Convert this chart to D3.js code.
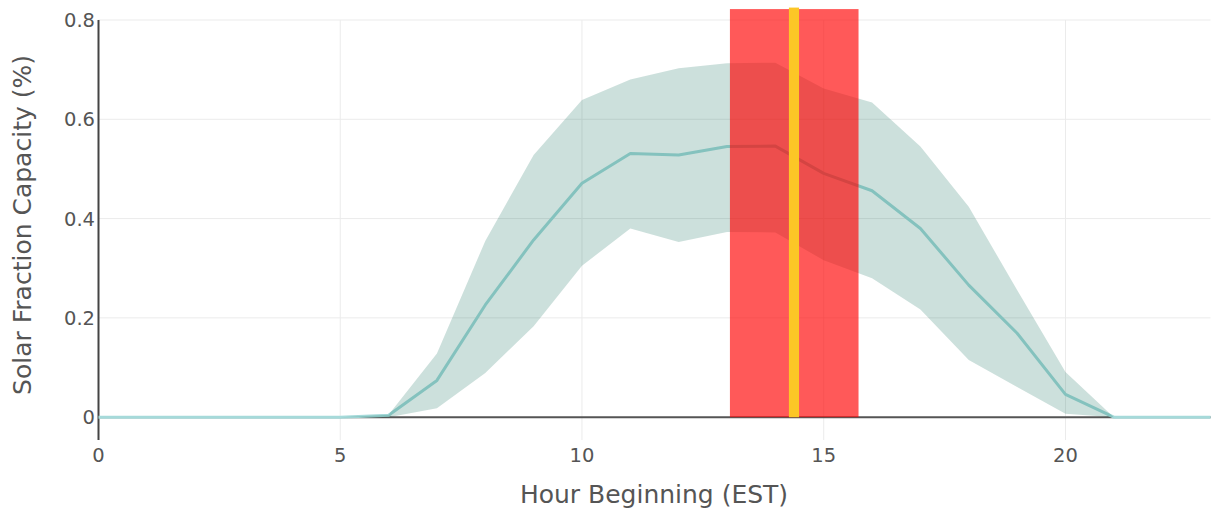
<!DOCTYPE html>
<html>
<head>
<meta charset="utf-8">
<script src="https://cdn.jsdelivr.net/npm/d3@7"></script>
<style>
  body { margin: 0; background: #fff; }
  svg { display: block; font-family: "DejaVu Sans", Verdana, sans-serif; }
  .tick-label { fill: #555; font-size: 19.5px; }
  .axis-title { fill: #555; font-size: 25px; }
</style>
</head>
<body>
<div id="chart"></div>
<script>
// Hourly solar fraction profile with spread band and a highlighted window.

const width = 1221;
const height = 510;

const hours = d3.range(0, 24);
const meanValues = [0, 0, 0, 0, 0, 0, 0.004, 0.074, 0.226, 0.357, 0.471, 0.531,
  0.528, 0.545, 0.546, 0.491, 0.456, 0.380, 0.266, 0.169, 0.046, 0, 0, 0];
const upperValues = [0, 0, 0, 0, 0, 0, 0.005, 0.128, 0.355, 0.528, 0.639, 0.680,
  0.703, 0.713, 0.714, 0.662, 0.634, 0.545, 0.424, 0.256, 0.091, 0, 0, 0];
const lowerValues = [0, 0, 0, 0, 0, 0, 0, 0.018, 0.089, 0.183, 0.305, 0.380,
  0.353, 0.373, 0.372, 0.316, 0.280, 0.217, 0.115, 0.061, 0.007, 0, 0, 0];

const redWindow = [13.06, 15.72];
const yellowWindow = [14.28, 14.49];
const redTop = 0.822;
const yellowTop = 0.825;

const xTicks = [0, 5, 10, 15, 20];
const yTicks = [0, 0.2, 0.4, 0.6, 0.8];

const svg = d3.select("#chart")
  .append("svg")
  .attr("width", width)
  .attr("height", height);

const xScale = d3.scaleLinear().domain([0, 23]).range([98.5, 1210.5]);
const yScale = d3.scaleLinear().domain([-0.046, 0.8]).range([440, 20]);

const data = hours.map((h, i) => ({
  hour: h, mean: meanValues[i], upper: upperValues[i], lower: lowerValues[i]
}));

// grid
svg.append("g")
  .selectAll("line")
  .data(xTicks.filter(d => d > 0))
  .join("line")
  .attr("x1", d => xScale(d)).attr("x2", d => xScale(d))
  .attr("y1", yScale.range()[1]).attr("y2", yScale.range()[0])
  .attr("stroke", "#ebebeb").attr("stroke-width", 1);

svg.append("g")
  .selectAll("line")
  .data(yTicks.filter(d => d > 0))
  .join("line")
  .attr("x1", xScale.range()[0]).attr("x2", xScale.range()[1])
  .attr("y1", d => yScale(d)).attr("y2", d => yScale(d))
  .attr("stroke", "#ebebeb").attr("stroke-width", 1);

// zero line
svg.append("line")
  .attr("x1", xScale.range()[0]).attr("x2", xScale.range()[1])
  .attr("y1", yScale(0)).attr("y2", yScale(0))
  .attr("stroke", "#555").attr("stroke-width", 2);

// y axis line
svg.append("line")
  .attr("x1", xScale(0)).attr("x2", xScale(0))
  .attr("y1", yScale.range()[1]).attr("y2", yScale.range()[0])
  .attr("stroke", "#444").attr("stroke-width", 2);

// mean line
const line = d3.line()
  .x(d => xScale(d.hour))
  .y(d => yScale(d.mean));

svg.append("path")
  .datum(data)
  .attr("fill", "none")
  .attr("stroke", "#a6dada")
  .attr("stroke-width", 3)
  .attr("stroke-linejoin", "round")
  .attr("d", line);

// spread band (on top of the line)
const area = d3.area()
  .x(d => xScale(d.hour))
  .y0(d => yScale(d.lower))
  .y1(d => yScale(d.upper));

svg.append("path")
  .datum(data)
  .attr("fill", "rgba(0, 100, 80, 0.2)")
  .attr("d", area);

// highlighted windows
svg.append("rect")
  .attr("x", xScale(redWindow[0]))
  .attr("width", xScale(redWindow[1]) - xScale(redWindow[0]))
  .attr("y", yScale(redTop))
  .attr("height", yScale(0) - yScale(redTop))
  .attr("fill", "rgba(255, 0, 0, 0.65)");

svg.append("rect")
  .attr("x", xScale(yellowWindow[0]))
  .attr("width", xScale(yellowWindow[1]) - xScale(yellowWindow[0]))
  .attr("y", yScale(yellowTop))
  .attr("height", yScale(0) - yScale(yellowTop))
  .attr("fill", "#fcc626");

// tick labels
svg.append("g")
  .selectAll("text")
  .data(xTicks)
  .join("text")
  .attr("class", "tick-label")
  .attr("x", d => xScale(d))
  .attr("y", 462)
  .attr("text-anchor", "middle")
  .text(d => d);

svg.append("g")
  .selectAll("text")
  .data(yTicks)
  .join("text")
  .attr("class", "tick-label")
  .attr("x", 95)
  .attr("y", d => yScale(d) + 7)
  .attr("text-anchor", "end")
  .text(d => d === 0 ? "0" : d.toFixed(1));

// axis titles
svg.append("text")
  .attr("class", "axis-title")
  .attr("x", 654)
  .attr("y", 503)
  .attr("text-anchor", "middle")
  .text("Hour Beginning (EST)");

svg.append("text")
  .attr("class", "axis-title")
  .attr("transform", "translate(31, 225) rotate(-90)")
  .attr("text-anchor", "middle")
  .text("Solar Fraction Capacity (%)");
</script>
</body>
</html>
